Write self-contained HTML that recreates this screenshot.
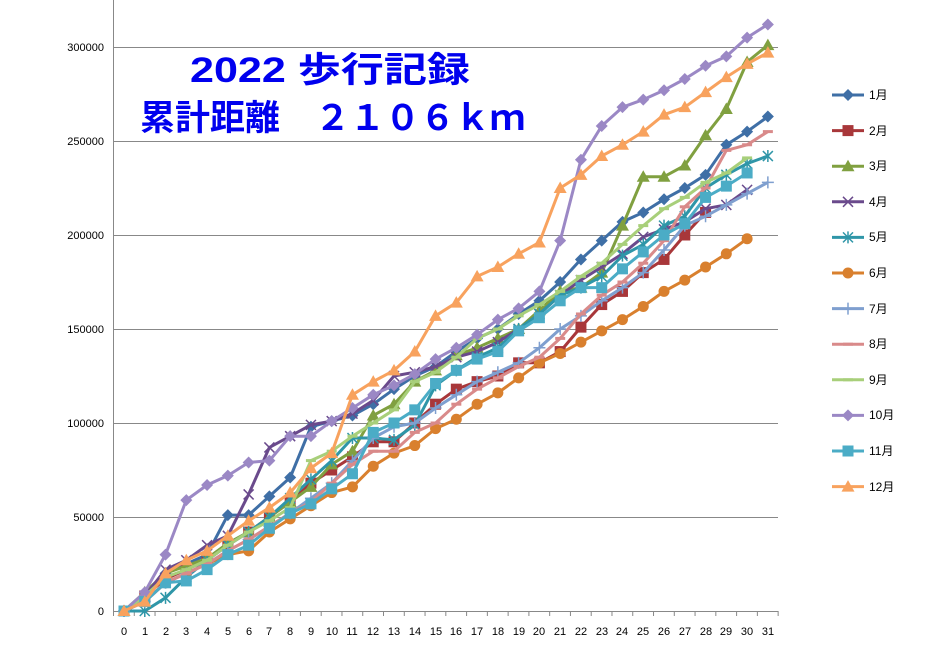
<!DOCTYPE html>
<html><head><meta charset="utf-8">
<style>
body{margin:0;background:#fff;}
svg{display:block;font-family:"Liberation Sans","Noto Sans CJK JP",sans-serif;}
.t{font-family:"Liberation Sans","Noto Sans CJK JP",sans-serif;font-weight:bold;fill:#0000EE;}
</style></head><body>
<svg id="s" width="934" height="659" viewBox="0 0 934 659">
<rect width="934" height="659" fill="#fff"/>
<g stroke="#888" stroke-width="1">
<line x1="113" y1="47.5" x2="778" y2="47.5"/>
<line x1="113" y1="141.5" x2="778" y2="141.5"/>
<line x1="113" y1="235.5" x2="778" y2="235.5"/>
<line x1="113" y1="329.5" x2="778" y2="329.5"/>
<line x1="113" y1="423.5" x2="778" y2="423.5"/>
<line x1="113" y1="517.5" x2="778" y2="517.5"/>
<line x1="113.5" y1="0" x2="113.5" y2="611"/>
<line x1="113" y1="611.5" x2="778" y2="611.5"/>
</g>
<g id="ticks" stroke="#888"></g>
<g font-size="11" fill="#000" text-anchor="end">
<text x="104" y="51">300000</text>
<text x="104" y="145">250000</text>
<text x="104" y="239">200000</text>
<text x="104" y="333">150000</text>
<text x="104" y="427">100000</text>
<text x="104" y="521">50000</text>
<text x="104" y="615">0</text>
</g>
<g font-size="11" fill="#000" text-anchor="middle">
<text x="124" y="635">0</text><text x="145" y="635">1</text><text x="166" y="635">2</text><text x="186" y="635">3</text><text x="207" y="635">4</text><text x="228" y="635">5</text><text x="249" y="635">6</text><text x="269" y="635">7</text><text x="290" y="635">8</text><text x="311" y="635">9</text><text x="332" y="635">10</text><text x="352" y="635">11</text><text x="373" y="635">12</text><text x="394" y="635">13</text><text x="415" y="635">14</text><text x="436" y="635">15</text><text x="456" y="635">16</text><text x="477" y="635">17</text><text x="498" y="635">18</text><text x="519" y="635">19</text><text x="539" y="635">20</text><text x="560" y="635">21</text><text x="581" y="635">22</text><text x="602" y="635">23</text><text x="622" y="635">24</text><text x="643" y="635">25</text><text x="664" y="635">26</text><text x="685" y="635">27</text><text x="706" y="635">28</text><text x="726" y="635">29</text><text x="747" y="635">30</text><text x="768" y="635">31</text>
</g>
<g id="series"></g>
<g id="legend"></g>
<g font-size="12" fill="#000">
<text x="869" y="99">1月</text><text x="869" y="135">2月</text><text x="869" y="170">3月</text><text x="869" y="206">4月</text><text x="869" y="241">5月</text><text x="869" y="277">6月</text><text x="869" y="313">7月</text><text x="869" y="348">8月</text><text x="869" y="384">9月</text><text x="869" y="419">10月</text><text x="869" y="455">11月</text><text x="869" y="491">12月</text>
</g>
<text class="t" x="190" y="82" font-size="35" textLength="280" lengthAdjust="spacingAndGlyphs">2022 歩行記録</text>
<text class="t" x="140" y="130" font-size="35" textLength="385" lengthAdjust="spacingAndGlyphs">累計距離　２１０６ｋｍ</text>
</svg>
<script>
var D=[
["#3F6FA6","d",[0,8,20,25,30,51,51,61,71,98,101,104,110,118,125,130,138,145,150,158,165,175,187,197,207,212,219,225,232,248,255,263]],
["#A8373A","s",[0,8,17,22,27,35,42,50,58,68,75,82,90,90,100,110,118,122,125,132,132,138,151,163,170,180,187,200,212]],
["#80A040","t",[0,10,20,24,28,36,42,50,58,66,78,85,104,110,122,128,136,140,145,150,160,170,172,180,205,231,231,237,253,267,292,301]],
["#6A4A8C","x",[0,8,22,27,35,40,62,87,93,99,101,105,112,125,127,130,135,138,143,150,158,168,176,183,190,199,203,207,214,216,224]],
["#2F96A8","a",[0,0,7,18,27,35,42,50,60,70,80,92,92,91,99,120,128,135,140,150,158,168,172,178,189,195,205,210,225,232,238,242]],
["#D9802E","c",[0,5,15,20,25,30,32,42,49,56,63,66,77,84,88,97,102,110,116,124,132,137,143,149,155,162,170,176,183,190,198]],
["#7F9FCF","p",[0,5,15,20,25,32,38,45,52,60,68,80,92,98,100,108,115,122,127,132,140,150,157,165,172,180,192,205,210,216,222,228]],
["#D98A8A","m",[0,5,15,20,25,32,38,45,52,58,68,78,85,85,95,100,110,118,124,130,135,145,158,168,175,185,197,215,225,245,248,255]],
["#A8CF7A","m",[0,8,18,22,27,35,42,48,55,80,85,93,100,107,122,127,135,145,150,157,163,170,178,185,195,205,214,220,228,233,241]],
["#9B88C5","d",[0,10,30,59,67,72,79,80,93,93,101,108,115,120,126,134,140,147,155,161,170,197,240,258,268,272,277,283,290,295,305,312]],
["#4BACC6","s",[0,5,15,16,22,30,35,44,52,57,65,73,95,100,107,121,128,134,138,149,156,165,172,172,182,191,200,206,220,226,233]],
["#F8A25E","t",[0,5,20,27,32,40,48,55,63,76,84,115,122,128,138,157,164,178,183,190,196,225,232,242,248,255,264,268,276,284,291,297]]];
function X(i){return 124+i*20.77}
function Y(v){return 611-v*564/300}
function mk(c,t,x,y){
 if(t=="d")return '<polygon points="'+x+','+(y-6)+' '+(x+6)+','+y+' '+x+','+(y+6)+' '+(x-6)+','+y+'" fill="'+c+'"/>';
 if(t=="s")return '<rect x="'+(x-5.5)+'" y="'+(y-5.5)+'" width="11" height="11" fill="'+c+'"/>';
 if(t=="t")return '<polygon points="'+x+','+(y-6.5)+' '+(x+6.5)+','+(y+5)+' '+(x-6.5)+','+(y+5)+'" fill="'+c+'"/>';
 if(t=="c")return '<circle cx="'+x+'" cy="'+y+'" r="5.5" fill="'+c+'"/>';
 if(t=="x")return '<path d="M'+(x-5)+' '+(y-5)+'L'+(x+5)+' '+(y+5)+'M'+(x+5)+' '+(y-5)+'L'+(x-5)+' '+(y+5)+'" stroke="'+c+'" stroke-width="1.5"/>';
 if(t=="a")return '<path d="M'+(x-5)+' '+(y-5)+'L'+(x+5)+' '+(y+5)+'M'+(x+5)+' '+(y-5)+'L'+(x-5)+' '+(y+5)+'M'+x+' '+(y-6)+'L'+x+' '+(y+6)+'" stroke="'+c+'" stroke-width="1.5"/>';
 if(t=="p")return '<path d="M'+(x-6)+' '+y+'L'+(x+6)+' '+y+'M'+x+' '+(y-6)+'L'+x+' '+(y+6)+'" stroke="'+c+'" stroke-width="1.5"/>';
 return '<rect x="'+(x-5)+'" y="'+(y-1.5)+'" width="10" height="3" fill="'+c+'"/>';
}
var h='',lg='',tk='';
D.forEach(function(s,k){
 var pts=s[2].map(function(v,i){return X(i).toFixed(1)+','+Y(v).toFixed(1)}).join(' ');
 h+='<polyline points="'+pts+'" fill="none" stroke="'+s[0]+'" stroke-width="3" stroke-linejoin="round"/>';
 s[2].forEach(function(v,i){h+=mk(s[0],s[1],X(i),Y(v))});
 var ly=95+k*35.6;
 lg+='<line x1="832" y1="'+ly+'" x2="864" y2="'+ly+'" stroke="'+s[0]+'" stroke-width="3"/>'+mk(s[0],s[1],848,ly);
});
for(var i=0;i<=32;i++){var x=113.5+i*20.77;tk+='<line x1="'+x+'" y1="611" x2="'+x+'" y2="616"/>';}
document.getElementById('series').innerHTML=h;
document.getElementById('legend').innerHTML=lg;
document.getElementById('ticks').innerHTML=tk;
</script>
</body></html>
